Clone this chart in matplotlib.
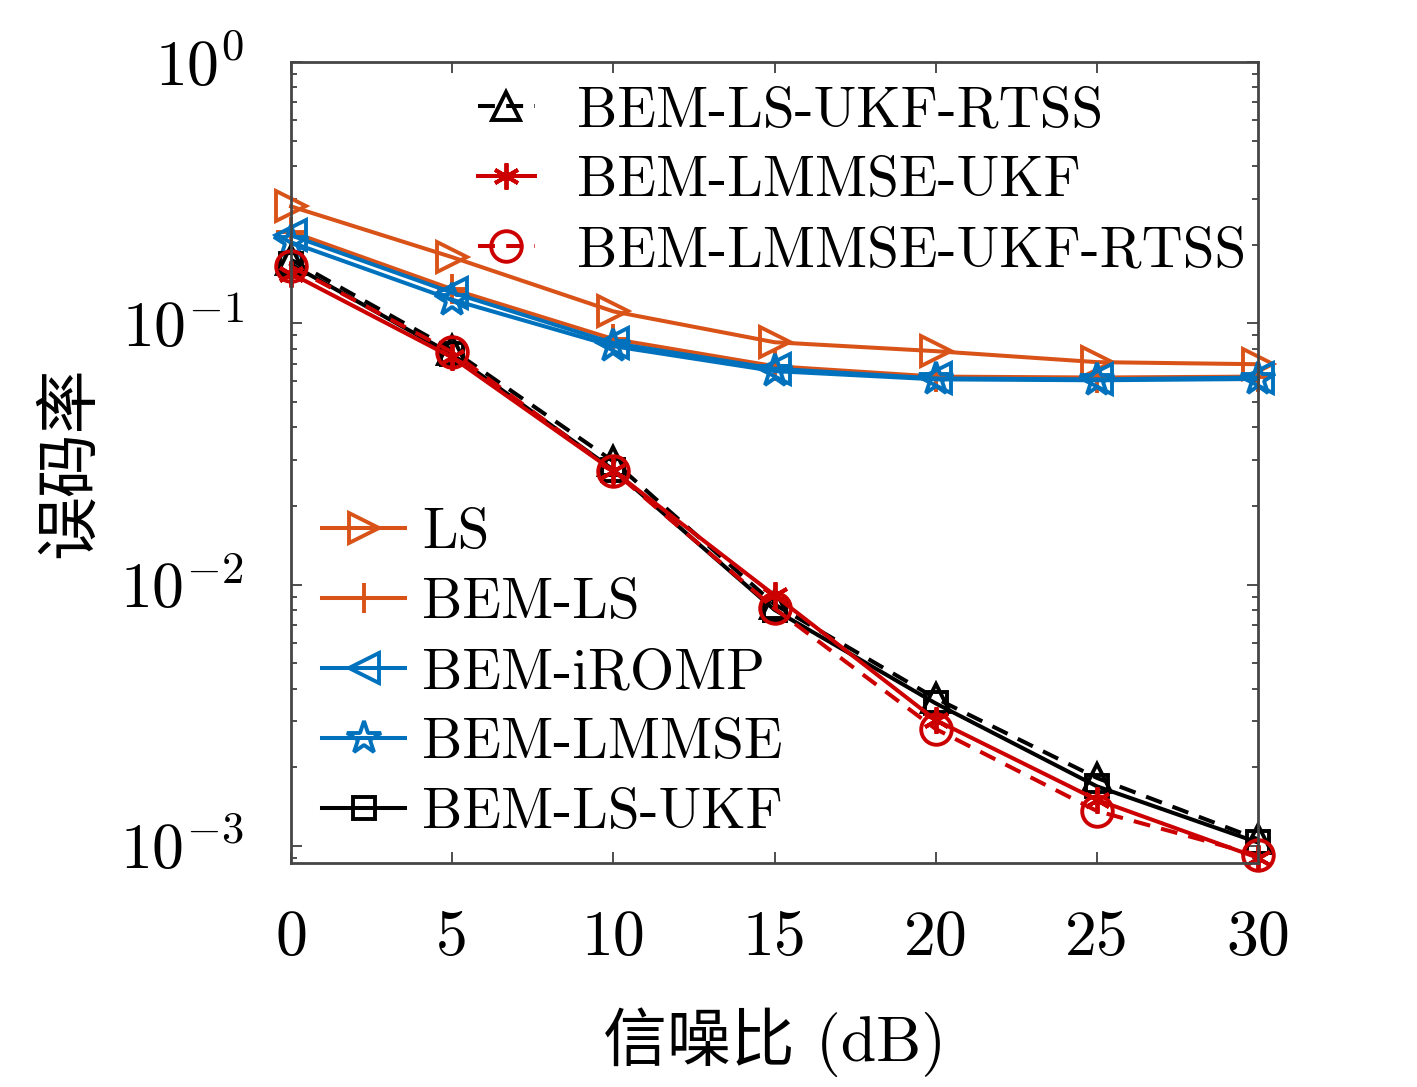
import numpy as np
import matplotlib
matplotlib.use("Agg")
import matplotlib.pyplot as plt

plt.rcParams['font.family'] = ['cmr10', 'Noto Sans CJK SC', 'DejaVu Sans']
plt.rcParams['mathtext.fontset'] = 'cm'
plt.rcParams['axes.unicode_minus'] = False

# data
snr = [0, 5, 10, 15, 20, 25, 30]
ber_ls = [0.28, 0.179, 0.111, 0.0846, 0.0782, 0.071, 0.0697]
ber_bem_ls = [0.224, 0.135, 0.087, 0.0685, 0.0625, 0.062, 0.0625]
ber_iromp = [0.217, 0.131, 0.084, 0.0670, 0.0615, 0.0610, 0.0620]
ber_lmmse = [0.204, 0.123, 0.0817, 0.0656, 0.0610, 0.0605, 0.0612]
ber_ls_ukf = [0.168, 0.076, 0.0275, 0.0080, 0.00351, 0.00169, 0.00103]
ber_ls_ukf_rtss = [0.175, 0.079, 0.0296, 0.0084, 0.00367, 0.00182, 0.00106]
ber_lmmse_ukf = [0.155, 0.074, 0.0272, 0.0091, 0.00303, 0.00150, 0.00090]
ber_lmmse_ukf_rtss = [0.165, 0.0775, 0.0272, 0.0081, 0.00280, 0.00136, 0.00092]

orange = '#D95319'
blue = '#0072BD'
red = '#CC0000'
dash = (0, (4.2, 2.8))
lw = 2.9
mew = 2.8

fig = plt.figure(figsize=(14.17, 10.87), dpi=100)
ax = fig.add_axes([0.2054, 0.2061, 0.6824, 0.7369])

kw = dict(lw=lw, mew=mew, clip_on=False)
l1, = ax.plot(snr, ber_ls, '-', marker='>', color=orange, ms=22, mfc='none', label='LS', **kw)
l2, = ax.plot(snr, ber_bem_ls, '-', marker='+', color=orange, ms=22, label='BEM-LS', **kw)
l3, = ax.plot(snr, ber_iromp, '-', marker='<', color=blue, ms=22, mfc='none', label='BEM-iROMP', **kw)
l4, = ax.plot(snr, ber_lmmse, '-', marker='*', color=blue, ms=25, mfc='none', label='BEM-LMMSE', **kw)
l5, = ax.plot(snr, ber_ls_ukf, '-', marker='s', color='black', ms=16, mfc='none', label='BEM-LS-UKF', **kw)
l6, = ax.plot(snr, ber_ls_ukf_rtss, linestyle=dash, marker='^', color='black', ms=20, mfc='none',
              label='BEM-LS-UKF-RTSS', **kw)
l7, = ax.plot(snr, ber_lmmse_ukf, '-', marker=(6, 2, 0), color=red, ms=19, label='BEM-LMMSE-UKF', **kw)
l8, = ax.plot(snr, ber_lmmse_ukf_rtss, linestyle=dash, marker='o', color=red, ms=22, mfc='none',
              label='BEM-LMMSE-UKF-RTSS', **kw)

ax.set_yscale('log')
ax.set_xlim(0, 30)
ax.set_ylim(8.6e-4, 1)
ax.set_xticks(snr)
ax.set_xticklabels([str(v) for v in snr])
ax.set_yticks([1e-3, 1e-2, 1e-1, 1])
ax.set_yticklabels(['$10^{-3}$', '$10^{-2}$', '$10^{-1}$', '$10^{0}$'])
ax.tick_params(axis='both', which='both', direction='in', top=True, right=True,
               colors='#404040', labelcolor='black', labelsize=46, pad=34)
ax.tick_params(which='major', length=8, width=1.3)
ax.tick_params(which='minor', length=4.5, width=1.3)
for s in ax.spines.values():
    s.set_linewidth(2)
    s.set_color('#454545')

ax.set_xlabel('信噪比 (dB)', fontsize=46, labelpad=28)
ax.set_ylabel('误码率', fontsize=46, labelpad=14)

leg1 = ax.legend(handles=[l6, l7, l8], loc='upper left', bbox_to_anchor=(0.193, 0.970),
                 frameon=False, fontsize=41, handlelength=1.0, handletextpad=0.75,
                 labelspacing=0.33, borderpad=0, borderaxespad=0)
ax.add_artist(leg1)
ax.legend(handles=[l1, l2, l3, l4, l5], loc='upper left', bbox_to_anchor=(0.032, 0.443),
          frameon=False, fontsize=41, handlelength=1.46, handletextpad=0.3,
          labelspacing=0.33, borderpad=0, borderaxespad=0)

fig.savefig('out.png', dpi=100)
